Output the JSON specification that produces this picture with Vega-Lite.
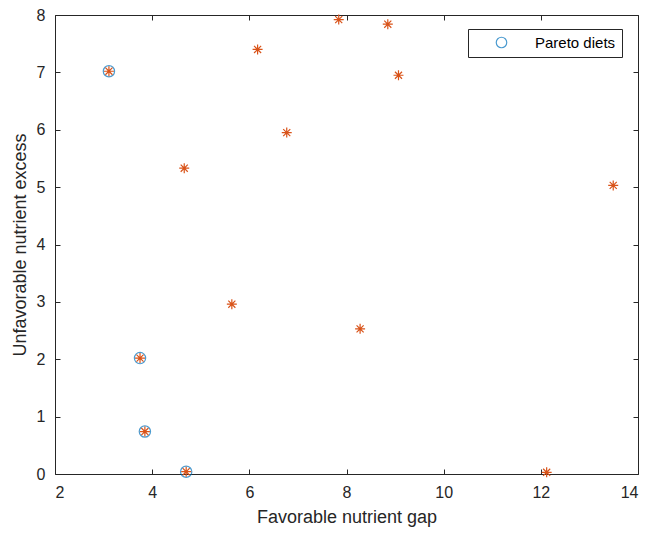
{
  "$schema": "https://vega.github.io/schema/vega-lite/v6.json",
  "autosize": "none",
  "padding": {"left": 55, "top": 15, "right": 8, "bottom": 60},
  "width": 583,
  "height": 459,
  "background": "white",
  "config": {
    "font": "Liberation Sans",
    "view": {"stroke": null},
    "axis": {
      "domainColor": "#262626",
      "tickColor": "#262626",
      "labelColor": "#262626",
      "titleColor": "#262626",
      "labelFont": "Liberation Sans",
      "titleFont": "Liberation Sans",
      "labelFontSize": 16,
      "titleFontSize": 18,
      "titleFontWeight": "normal",
      "grid": false,
      "tickSize": -5,
      "domainWidth": 1,
      "tickWidth": 1
    }
  },
  "data": {
    "values": [
      {"gap": 3.11, "excess": 7.02, "pareto": true},
      {"gap": 3.75, "excess": 2.02, "pareto": true},
      {"gap": 3.85, "excess": 0.74, "pareto": true},
      {"gap": 4.70, "excess": 0.04, "pareto": true},
      {"gap": 4.66, "excess": 5.33, "pareto": false},
      {"gap": 5.64, "excess": 2.96, "pareto": false},
      {"gap": 6.17, "excess": 7.40, "pareto": false},
      {"gap": 6.77, "excess": 5.95, "pareto": false},
      {"gap": 7.84, "excess": 7.92, "pareto": false},
      {"gap": 8.85, "excess": 7.84, "pareto": false},
      {"gap": 8.28, "excess": 2.53, "pareto": false},
      {"gap": 9.07, "excess": 6.95, "pareto": false},
      {"gap": 12.12, "excess": 0.03, "pareto": false},
      {"gap": 13.49, "excess": 5.03, "pareto": false}
    ]
  },
  "resolve": {"axis": {"x": "independent", "y": "independent"}},
  "layer": [
    {
      "transform": [{"filter": "datum.pareto"}],
      "mark": {"type": "point", "shape": "circle", "filled": false, "size": 128, "strokeWidth": 1.2},
      "encoding": {
        "x": {
          "field": "gap", "type": "quantitative",
          "scale": {"domain": [2, 14], "nice": false, "zero": false},
          "axis": {"orient": "bottom", "values": [2, 4, 6, 8, 10, 12, 14], "title": "Favorable nutrient gap", "labelPadding": 15, "titlePadding": 8}
        },
        "y": {
          "field": "excess", "type": "quantitative",
          "scale": {"domain": [0, 8], "nice": false, "zero": false},
          "axis": {"orient": "left", "values": [0, 1, 2, 3, 4, 5, 6, 7, 8], "title": "Unfavorable nutrient excess", "labelPadding": 15, "titlePadding": 7}
        },
        "color": {
          "datum": "Pareto diets", "type": "nominal",
          "scale": {"range": ["#0072BD"]},
          "legend": {
            "title": null,
            "orient": "none",
            "legendX": 413,
            "legendY": 14,
            "strokeColor": "#262626",
            "fillColor": "white",
            "padding": 6,
            "symbolOffset": 20,
            "symbolType": "circle",
            "symbolSize": 110,
            "symbolStrokeWidth": 1.2,
            "symbolFillColor": "transparent",
            "labelFontSize": 15,
            "labelColor": "#000000",
            "labelOffset": 26,
            "labelFont": "Liberation Sans"
          }
        }
      }
    },
    {
      "mark": {
        "type": "point",
        "shape": "M0,-1L0,1M-1,0L1,0M-0.7071,-0.7071L0.7071,0.7071M-0.7071,0.7071L0.7071,-0.7071",
        "filled": false,
        "size": 100,
        "strokeWidth": 1.2,
        "color": "#D95319",
        "opacity": 1
      },
      "encoding": {
        "x": {
          "field": "gap", "type": "quantitative",
          "axis": {"orient": "top", "values": [2, 4, 6, 8, 10, 12, 14], "labels": false, "title": null}
        },
        "y": {
          "field": "excess", "type": "quantitative",
          "axis": {"orient": "right", "values": [0, 1, 2, 3, 4, 5, 6, 7, 8], "labels": false, "title": null}
        }
      }
    }
  ]
}
